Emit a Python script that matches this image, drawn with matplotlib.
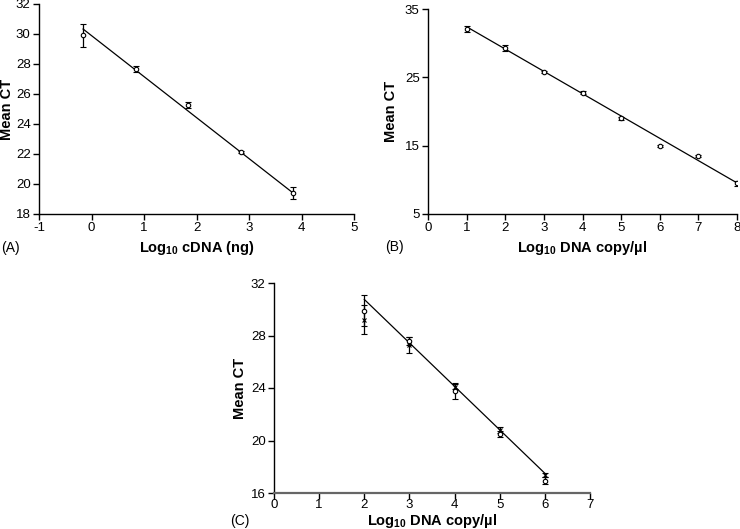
import matplotlib
matplotlib.use("Agg")
import matplotlib.pyplot as plt

plt.rcParams['font.family'] = ['Liberation Sans', 'DejaVu Sans']
plt.rcParams['mathtext.fontset'] = 'custom'
plt.rcParams['mathtext.rm'] = 'Liberation Sans'
plt.rcParams['mathtext.bf'] = 'Liberation Sans:bold'

# Panel A
a_x = [-0.16, 0.84, 1.84, 2.84, 3.84]
a_y = [29.93, 27.67, 25.27, 22.13, 19.4]
a_err = [0.77, 0.2, 0.2, 0.05, 0.37]
a_fit_x = [-0.16, 3.84]
a_fit_y = [30.33, 19.4]
a_xticks = [-1, 0, 1, 2, 3, 4, 5]
a_yticks = [18, 20, 22, 24, 26, 28, 30, 32]

# Panel B
b_x = [1, 2, 3, 4, 5, 6, 7, 8]
b_y = [32.07, 29.3, 25.8, 22.75, 19.0, 14.95, 13.5, 9.5]
b_err = [0.4, 0.4, 0.2, 0.2, 0.2, 0.2, 0.2, 0.4]
b_fit_x = [1, 8]
b_fit_y = [32.4, 9.55]
b_xticks = [0, 1, 2, 3, 4, 5, 6, 7, 8]
b_yticks = [5, 15, 25, 35]

# Panel C (two replicate series)
c_x = [2, 3, 4, 5, 6]
c_y1 = [29.9, 27.6, 23.8, 20.5, 16.95]
c_err1 = [1.2, 0.3, 0.6, 0.2, 0.25]
c_y2 = [29.2, 27.3, 24.1, 20.8, 17.35]
c_err2 = [1.1, 0.6, 0.2, 0.2, 0.15]
c_fit_x = [2, 6]
c_fit_y = [30.75, 17.5]
c_xticks = [0, 1, 2, 3, 4, 5, 6, 7]
c_yticks = [16, 20, 24, 28, 32]

W, H = 740, 529
fig = plt.figure(figsize=(W / 100, H / 100), dpi=100)


def box(l, t, r, b):
    return [l / W, 1 - b / H, (r - l) / W, (b - t) / H]


def style(ax, px, xlim, ylim, xticks, yticks, xlabel, ylab_x, xlab_y,
          spine_color='black', xpad=2):
    l, t, r, b = px
    ax.set_xlim(*xlim)
    ax.set_ylim(*ylim)
    ax.set_xticks(xticks)
    ax.set_yticks(yticks)
    ax.set_xticklabels([str(v) for v in xticks])
    for s in ['top', 'right']:
        ax.spines[s].set_visible(False)
    ax.spines['left'].set_linewidth(1.0)
    ax.spines['bottom'].set_linewidth(1.0)
    ax.spines['bottom'].set_color(spine_color)
    ax.tick_params(direction='out', length=4, width=1.0, labelsize=9.5, pad=2)
    ax.tick_params(axis='x', pad=xpad)
    ax.set_xlabel(xlabel, fontsize=10.5, fontweight='bold', va='center')
    ax.set_ylabel('Mean CT', fontsize=10.5, fontweight='bold', va='center')
    ax.yaxis.set_label_coords((ylab_x - l) / (r - l), 0.5)
    ax.xaxis.set_label_coords(0.5, (b - xlab_y) / (b - t))


mk = dict(fmt='o', ms=3.2, mfc='white', mec='black', mew=0.8, ecolor='black',
          elinewidth=0.9, capsize=2.5, capthick=0.9, color='black')

# A
pa = (39, 4, 354, 214)
axA = fig.add_axes(box(*pa))
axA.plot(a_fit_x, a_fit_y, color='black', lw=0.9)
axA.errorbar(a_x, a_y, yerr=a_err, **mk)
style(axA, pa, (-1, 5), (18, 32), a_xticks, a_yticks,
      r'Log$_{\mathbf{10}}$ cDNA (ng)', 7, 248)
fig.text(1 / W, 1 - 248 / H, '(A)', fontsize=10, va='center')

# B
pb = (428, 9, 737, 214)
axB = fig.add_axes(box(*pb))
axB.plot(b_fit_x, b_fit_y, color='black', lw=0.9)
axB.errorbar(b_x, b_y, yerr=b_err, **mk)
style(axB, pb, (0, 8), (5, 35), b_xticks, b_yticks,
      r'Log$_{\mathbf{10}}$ DNA copy/µl', 391, 248)
fig.text(385 / W, 1 - 247 / H, '(B)', fontsize=10, va='center')

# C
pc = (274, 283, 590, 493)
axC = fig.add_axes(box(*pc))
axC.plot(c_fit_x, c_fit_y, color='black', lw=0.9)
axC.errorbar(c_x, c_y1, yerr=c_err1, **mk)
mk2 = dict(mk)
mk2['fmt'] = 'x'
axC.errorbar(c_x, c_y2, yerr=c_err2, **mk2)
style(axC, pc, (0, 7), (16, 32), c_xticks, c_yticks,
      r'Log$_{\mathbf{10}}$ DNA copy/µl', 240, 521, spine_color='#666666',
      xpad=0.5)
axC.spines['bottom'].set_linewidth(1.6)
fig.text(230 / W, 1 - 521 / H, '(C)', fontsize=10, va='center')

fig.savefig('out.png', dpi=100)
